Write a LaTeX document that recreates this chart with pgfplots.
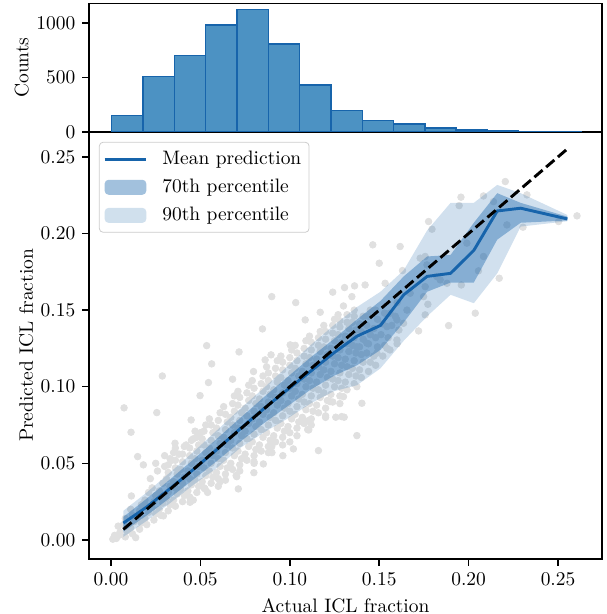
\documentclass[border=0pt]{standalone}
\usepackage{pgfplots}
\pgfplotsset{compat=1.18}
\definecolor{histfill}{RGB}{76,146,195}
\definecolor{dblue}{RGB}{23,100,171}
\definecolor{dotgray}{RGB}{224,224,224}
\definecolor{leggray}{RGB}{204,204,204}
\pgfplotsset{
  lineleg/.style={legend image code/.code={\draw[##1] (0pt,0pt) -- (21.4pt,0pt);}},
  arealeg/.style={legend image code/.code={\fill[##1] (0pt,-3.85pt) rectangle (21.4pt,3.85pt);}},
  myax/.style={
    scale only axis, width=263.7pt,
    axis line style={line width=0.8pt},
    tick align=outside, major tick length=3.5pt,
    major tick style={line width=0.8pt, black},
    scaled ticks=false,
    label style={font=\normalsize},
    tick label style={font=\normalsize},
    ylabel style={yshift=-3pt},
  }
}
\begin{document}
\begin{tikzpicture}
% ---------- scatter / prediction panel ----------
\begin{axis}[myax, name=scat, at={(0,0)}, anchor=south west,
  height=219.5pt, clip marker paths=true,
  xmin=-0.0123, xmax=0.2746, ymin=-0.0124, ymax=0.2663,
  xtick={0,0.05,0.1,0.15,0.2,0.25}, ytick={0,0.05,0.1,0.15,0.2,0.25},
  xtick pos=bottom, ytick pos=left,
  xticklabel style={/pgf/number format/.cd, fixed, fixed zerofill, precision=2},
  yticklabel style={/pgf/number format/.cd, fixed, fixed zerofill, precision=2},
  xlabel={Actual ICL fraction}, ylabel={Predicted ICL fraction},
  legend style={at={(0,1)}, anchor=north west, xshift=5.1pt, yshift=-5.1pt,
    draw=leggray, rounded corners=2pt, fill=white, fill opacity=0.8,
    text opacity=1, draw opacity=1, font=\normalsize, inner xsep=2pt, inner ysep=2.5pt,
    row sep=2pt, /tikz/every odd column/.append style={column sep=5.5pt}},
  legend cell align=left,
]
% gray points: dense cloud
\addplot[only marks, mark=*, mark size=1.7pt, color=dotgray, mark options={draw=none}, forget plot] coordinates {
(0.003,0.001)(0.005,0.005)(0.004,0.009)(0.002,0.003)
(0.008,0.002)(0.009,0.006)(0.007,0.010)(0.008,0.014)
(0.012,0.004)(0.011,0.008)(0.013,0.012)(0.012,0.016)(0.011,0.020)
(0.016,0.007)(0.017,0.011)(0.015,0.015)(0.016,0.019)(0.017,0.023)
(0.020,0.010)(0.019,0.014)(0.021,0.018)(0.020,0.022)(0.019,0.026)(0.021,0.031)
(0.024,0.013)(0.025,0.017)(0.023,0.021)(0.024,0.025)(0.025,0.029)(0.023,0.034)
(0.028,0.016)(0.027,0.020)(0.029,0.024)(0.028,0.028)(0.027,0.032)(0.029,0.037)
(0.032,0.019)(0.033,0.023)(0.031,0.027)(0.032,0.031)(0.033,0.035)(0.031,0.040)(0.032,0.044)
(0.036,0.022)(0.035,0.026)(0.037,0.030)(0.036,0.034)(0.035,0.038)(0.037,0.043)(0.036,0.047)
(0.040,0.025)(0.041,0.029)(0.039,0.033)(0.040,0.037)(0.041,0.041)(0.039,0.046)(0.040,0.051)
(0.044,0.028)(0.043,0.032)(0.045,0.036)(0.044,0.040)(0.043,0.045)(0.045,0.050)(0.044,0.055)
(0.048,0.031)(0.049,0.035)(0.047,0.039)(0.048,0.043)(0.049,0.048)(0.047,0.053)(0.048,0.058)(0.049,0.062)
(0.052,0.034)(0.051,0.038)(0.053,0.042)(0.052,0.047)(0.051,0.052)(0.053,0.057)(0.052,0.062)(0.051,0.066)
(0.056,0.037)(0.057,0.041)(0.055,0.045)(0.056,0.050)(0.057,0.055)(0.055,0.060)(0.056,0.065)(0.057,0.070)
(0.060,0.040)(0.059,0.044)(0.061,0.048)(0.060,0.053)(0.059,0.058)(0.061,0.063)(0.060,0.068)(0.059,0.073)
(0.064,0.043)(0.065,0.047)(0.063,0.052)(0.064,0.057)(0.065,0.062)(0.063,0.067)(0.064,0.072)(0.065,0.077)
(0.068,0.046)(0.067,0.050)(0.069,0.055)(0.068,0.060)(0.067,0.065)(0.069,0.070)(0.068,0.075)(0.067,0.080)(0.069,0.084)
(0.072,0.049)(0.073,0.053)(0.071,0.058)(0.072,0.063)(0.073,0.068)(0.071,0.073)(0.072,0.078)(0.073,0.083)(0.071,0.088)
(0.076,0.052)(0.075,0.056)(0.077,0.061)(0.076,0.066)(0.075,0.071)(0.077,0.076)(0.076,0.081)(0.075,0.086)(0.077,0.091)
(0.080,0.055)(0.081,0.059)(0.079,0.064)(0.080,0.069)(0.081,0.074)(0.079,0.079)(0.080,0.084)(0.081,0.089)(0.079,0.094)
(0.084,0.058)(0.083,0.062)(0.085,0.067)(0.084,0.072)(0.083,0.077)(0.085,0.082)(0.084,0.087)(0.083,0.092)(0.085,0.097)
(0.088,0.061)(0.089,0.065)(0.087,0.070)(0.088,0.075)(0.089,0.080)(0.087,0.085)(0.088,0.090)(0.089,0.095)(0.087,0.100)(0.088,0.104)
(0.092,0.064)(0.091,0.068)(0.093,0.073)(0.092,0.078)(0.091,0.083)(0.093,0.088)(0.092,0.093)(0.091,0.098)(0.093,0.103)(0.092,0.107)
(0.096,0.067)(0.097,0.071)(0.095,0.076)(0.096,0.081)(0.097,0.086)(0.095,0.091)(0.096,0.096)(0.097,0.101)(0.095,0.106)(0.096,0.111)
(0.100,0.070)(0.099,0.074)(0.101,0.079)(0.100,0.084)(0.099,0.089)(0.101,0.094)(0.100,0.099)(0.099,0.104)(0.101,0.109)(0.100,0.114)
(0.104,0.073)(0.105,0.077)(0.103,0.082)(0.104,0.087)(0.105,0.092)(0.103,0.097)(0.104,0.102)(0.105,0.107)(0.103,0.112)(0.104,0.117)
(0.108,0.076)(0.107,0.080)(0.109,0.085)(0.108,0.090)(0.107,0.095)(0.109,0.100)(0.108,0.105)(0.107,0.110)(0.109,0.115)(0.108,0.120)
(0.112,0.079)(0.113,0.084)(0.111,0.089)(0.112,0.094)(0.113,0.099)(0.111,0.104)(0.112,0.109)(0.113,0.114)(0.111,0.119)(0.112,0.124)
(0.116,0.083)(0.115,0.088)(0.117,0.093)(0.116,0.098)(0.115,0.103)(0.117,0.108)(0.116,0.113)(0.115,0.118)(0.117,0.123)(0.116,0.127)
(0.120,0.086)(0.121,0.091)(0.119,0.096)(0.120,0.101)(0.121,0.106)(0.119,0.111)(0.120,0.116)(0.121,0.121)(0.119,0.126)(0.120,0.131)
(0.124,0.090)(0.123,0.095)(0.125,0.100)(0.124,0.105)(0.123,0.110)(0.125,0.115)(0.124,0.120)(0.123,0.125)(0.125,0.130)(0.124,0.135)
(0.128,0.094)(0.129,0.099)(0.127,0.104)(0.128,0.109)(0.129,0.114)(0.127,0.119)(0.128,0.124)(0.129,0.129)(0.127,0.134)(0.128,0.139)
(0.132,0.098)(0.131,0.103)(0.133,0.108)(0.132,0.113)(0.131,0.118)(0.133,0.123)(0.132,0.128)(0.131,0.133)(0.133,0.138)(0.132,0.142)
(0.136,0.102)(0.137,0.107)(0.135,0.112)(0.136,0.117)(0.137,0.122)(0.135,0.127)(0.136,0.132)(0.137,0.137)(0.135,0.142)(0.136,0.146)
(0.140,0.106)(0.139,0.111)(0.141,0.116)(0.140,0.121)(0.139,0.126)(0.141,0.131)(0.140,0.136)(0.139,0.141)(0.141,0.146)
(0.144,0.110)(0.145,0.116)(0.143,0.122)(0.144,0.128)(0.145,0.134)(0.143,0.140)(0.144,0.146)(0.145,0.150)
(0.148,0.114)(0.147,0.120)(0.149,0.126)(0.148,0.132)(0.147,0.138)(0.149,0.144)(0.148,0.150)
(0.152,0.120)(0.153,0.127)(0.151,0.134)(0.152,0.141)(0.153,0.148)
(0.156,0.124)(0.155,0.132)(0.157,0.140)(0.156,0.148)
(0.160,0.128)(0.161,0.137)(0.159,0.146)(0.160,0.155)
(0.022,0.040)(0.026,0.045)(0.030,0.048)(0.034,0.052)(0.038,0.056)(0.030,0.055)(0.025,0.050)
(0.036,0.060)(0.042,0.062)(0.046,0.066)(0.050,0.070)(0.060,0.035)(0.070,0.042)(0.080,0.050)
(0.090,0.057)(0.100,0.064)(0.110,0.072)(0.120,0.080)
(0.032,0.049)(0.033,0.053)(0.036,0.052)(0.035,0.057)(0.040,0.056)(0.041,0.061)(0.044,0.060)(0.045,0.065)
(0.048,0.067)(0.047,0.071)(0.052,0.071)(0.053,0.075)(0.056,0.075)(0.055,0.079)(0.060,0.078)(0.061,0.083)
(0.064,0.082)(0.063,0.087)(0.068,0.089)(0.069,0.094)(0.072,0.093)(0.071,0.097)(0.076,0.096)(0.077,0.101)
(0.080,0.099)(0.079,0.104)(0.084,0.102)(0.085,0.107)(0.088,0.109)(0.087,0.113)(0.092,0.112)(0.093,0.117)
(0.096,0.116)(0.095,0.120)(0.100,0.119)(0.101,0.124)(0.104,0.122)(0.103,0.127)(0.108,0.125)(0.109,0.130)
(0.112,0.129)(0.111,0.133)(0.116,0.132)(0.117,0.136)(0.120,0.136)(0.119,0.140)(0.124,0.140)(0.125,0.144)
(0.128,0.143)(0.127,0.147)(0.132,0.147)(0.136,0.150)
(0.064,0.039)(0.072,0.045)(0.080,0.051)(0.088,0.057)(0.096,0.062)(0.104,0.068)(0.112,0.075)(0.120,0.081)
(0.128,0.089)(0.054,0.031)(0.046,0.026)
};
% gray points: scattered outliers
\addplot[only marks, mark=*, mark size=1.7pt, color=dotgray, mark options={draw=none}, forget plot] coordinates {
(0.0535,0.1268)(0.0716,0.1227)(0.0563,0.1149)(0.0287,0.1070)(0.0545,0.1027)
(0.0073,0.0862)(0.0256,0.0831)(0.0112,0.0703)(0.0149,0.0544)(0.0181,0.0490)
(0.0114,0.0287)(0.0138,0.0015)(0.0010,0.0005)(0.0050,0.0033)
(0.0799,0.0439)(0.0712,0.0333)(0.0961,0.0550)(0.1020,0.0594)(0.1160,0.0583)
(0.1375,0.0681)(0.1304,0.0801)(0.1257,0.0801)(0.1100,0.0777)(0.0358,0.0631)
(0.0448,0.0783)(0.0680,0.1049)(0.0797,0.1099)(0.0862,0.1175)(0.0895,0.1208)
(0.1002,0.1273)(0.0293,0.0157)(0.0442,0.0246)(0.0526,0.0333)(0.0610,0.0380)
(0.0703,0.0413)(0.0852,0.0496)(0.0899,0.0609)(0.1106,0.0718)(0.1225,0.0903)
(0.1300,0.0935)(0.1375,0.1000)(0.1403,0.0892)
(0.0899,0.1588)(0.1033,0.1549)(0.0847,0.1377)(0.0498,0.0942)(0.1290,0.0805)
(0.2205,0.2339)(0.2326,0.2252)(0.2606,0.2115)(0.2503,0.2078)(0.2304,0.2041)
(0.2171,0.1708)(0.2037,0.1480)(0.1888,0.1399)(0.1776,0.2078)(0.1795,0.2028)
(0.1957,0.2237)(0.1947,0.2182)(0.2083,0.2245)(0.2139,0.2208)(0.2214,0.2056)
(0.1464,0.1926)(0.1617,0.1915)(0.1500,0.1806)(0.1630,0.1758)(0.1757,0.1850)
(0.1720,0.1364)(0.1757,0.1469)(0.1772,0.1538)(0.1990,0.1937)(0.2083,0.1850)
(0.2055,0.1756)(0.1959,0.1664)(0.1841,0.1697)(0.1879,0.1675)(0.1822,0.1719)
(0.1767,0.1795)(0.1729,0.1839)(0.1240,0.1617)(0.1306,0.1647)(0.1362,0.1658)
(0.1421,0.1664)(0.1347,0.1588)(0.1170,0.1486)(0.1086,0.1436)(0.1300,0.1527)
(0.1533,0.1675)(0.1748,0.1588)(0.1673,0.1610)(0.1757,0.1653)(0.1655,0.1500)
(0.1599,0.1436)(0.1543,0.1392)(0.1599,0.1305)(0.1543,0.1251)(0.1487,0.1219)
(0.1431,0.1284)(0.1375,0.1260)(0.1636,0.1414)
};
% 90th percentile band
\addplot[fill=dblue, fill opacity=0.2, draw=none, forget plot] coordinates {
(0.0069,0.0190)(0.0200,0.0310)(0.0330,0.0440)(0.0461,0.0575)(0.0592,0.0715)
(0.0722,0.0855)(0.0853,0.0990)(0.0984,0.1130)(0.1115,0.1270)(0.1245,0.1400)
(0.1376,0.1520)(0.1507,0.1620)(0.1637,0.1760)(0.1768,0.2020)(0.1899,0.2200)
(0.2029,0.2200)(0.2160,0.2317)(0.2291,0.2263)(0.2552,0.2121)
(0.2552,0.2080)(0.2291,0.2045)(0.2160,0.1740)(0.2029,0.1545)(0.1899,0.1600)
(0.1768,0.1460)(0.1637,0.1300)(0.1507,0.1120)(0.1376,0.1010)(0.1245,0.0970)
(0.1115,0.0890)(0.0984,0.0790)(0.0853,0.0700)(0.0722,0.0600)(0.0592,0.0470)
(0.0461,0.0360)(0.0330,0.0240)(0.0200,0.0125)(0.0069,0.0020)
} -- cycle;
% 70th percentile band
\addplot[fill=dblue, fill opacity=0.4, draw=none, forget plot] coordinates {
(0.0069,0.0150)(0.0200,0.0270)(0.0330,0.0395)(0.0461,0.0525)(0.0592,0.0660)
(0.0722,0.0795)(0.0853,0.0930)(0.0984,0.1060)(0.1115,0.1190)(0.1245,0.1310)
(0.1376,0.1440)(0.1507,0.1560)(0.1637,0.1720)(0.1768,0.1850)(0.1899,0.1860)
(0.2029,0.2070)(0.2160,0.2263)(0.2291,0.2200)(0.2552,0.2110)
(0.2552,0.2085)(0.2291,0.2070)(0.2160,0.1960)(0.2029,0.1680)(0.1899,0.1680)
(0.1768,0.1620)(0.1637,0.1420)(0.1507,0.1240)(0.1376,0.1140)(0.1245,0.1070)
(0.1115,0.0980)(0.0984,0.0870)(0.0853,0.0760)(0.0722,0.0640)(0.0592,0.0515)
(0.0461,0.0395)(0.0330,0.0275)(0.0200,0.0160)(0.0069,0.0055)
} -- cycle;
% mean prediction
\addplot[color=dblue, line width=1.5pt, forget plot] coordinates {
(0.0069,0.0110)(0.0200,0.0215)(0.0330,0.0335)(0.0461,0.0460)(0.0592,0.0590)
(0.0722,0.0725)(0.0853,0.0855)(0.0984,0.0978)(0.1115,0.1100)(0.1245,0.1220)
(0.1376,0.1330)(0.1507,0.1400)(0.1637,0.1600)(0.1768,0.1720)(0.1899,0.1740)
(0.2029,0.1890)(0.2160,0.2147)(0.2291,0.2165)(0.2552,0.2095)
};
% identity line
\addplot[black, line width=1.5pt, dash pattern=on 5.55pt off 2.4pt, forget plot] coordinates {
(0.0069,0.0069)(0.2552,0.2552)
};
\addlegendimage{color=dblue, line width=1.5pt, lineleg}
\addlegendentry{Mean prediction}
\addlegendimage{fill=dblue, fill opacity=0.4, draw=none, arealeg}
\addlegendentry{70th percentile}
\addlegendimage{fill=dblue, fill opacity=0.2, draw=none, arealeg}
\addlegendentry{90th percentile}
\end{axis}
% ---------- histogram panel ----------
\begin{axis}[myax, name=hist, at={(0,219.5pt)}, anchor=south west,
  height=66pt,
  xmin=-0.0123, xmax=0.2746, ymin=0, ymax=1178,
  xtick=\empty, ytick={0,500,1000}, ytick pos=left,
  yticklabel style={/pgf/number format/.cd, fixed, 1000 sep={}},
  ylabel={Counts},
]
\addplot[ybar interval, fill=histfill, draw=dblue, line width=0.75pt] coordinates {
(0.0004,152)(0.0179,510)(0.0354,700)(0.0529,980)(0.0704,1122)(0.0880,805)
(0.1055,430)(0.1230,198)(0.1405,106)(0.1580,72)(0.1755,35)(0.1930,16)
(0.2105,10)(0.2280,6)(0.2455,4)(0.2631,0)
};
\end{axis}
\pgfresetboundingbox
\path[use as bounding box] (-45.75pt,-28.3pt) rectangle ++(312pt,315.6pt);
\end{tikzpicture}
\end{document}
